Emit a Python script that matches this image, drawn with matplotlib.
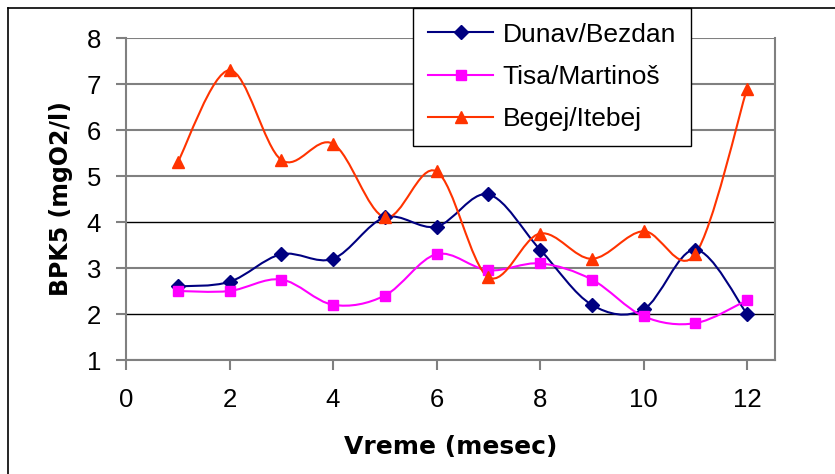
import numpy as np
import matplotlib
matplotlib.use('Agg')
import matplotlib.pyplot as plt
from matplotlib.path import Path
from matplotlib.patches import PathPatch
from matplotlib.lines import Line2D

plt.rcParams['font.family'] = ['Liberation Sans', 'DejaVu Sans']

months = [1, 2, 3, 4, 5, 6, 7, 8, 9, 10, 11, 12]
dunav = [2.6, 2.7, 3.3, 3.2, 4.1, 3.9, 4.6, 3.4, 2.2, 2.1, 3.4, 2.0]
tisa = [2.5, 2.5, 2.75, 2.2, 2.4, 3.3, 2.95, 3.1, 2.75, 1.95, 1.8, 2.3]
begej = [5.3, 7.3, 5.35, 5.7, 4.1, 5.1, 2.8, 3.75, 3.2, 3.8, 3.3, 6.9]


def smooth_path(x, y):
    # Excel-like smoothed line: cubic Bezier through the points
    p = np.column_stack([x, y]).astype(float)
    n = len(p)
    verts = [p[0]]
    codes = [Path.MOVETO]
    for i in range(n - 1):
        p0 = p[i - 1] if i > 0 else p[i]
        p3 = p[i + 2] if i + 2 < n else p[i + 1]
        c1 = p[i] + (p[i + 1] - p0) / 6
        c2 = p[i + 1] - (p3 - p[i]) / 6
        verts += [c1, c2, p[i + 1]]
        codes += [Path.CURVE4] * 3
    return Path(verts, codes)


fig = plt.figure(figsize=(8.35, 4.74), dpi=100)
ax = fig.add_axes([126 / 835, 1 - 360 / 474, 649 / 835, 322 / 474])

series = [
    ('Dunav/Bezdan', dunav, '#000080', 'D', 7),
    ('Tisa/Martinoš', tisa, '#FF00FF', 's', 7),
    ('Begej/Itebej', begej, '#FF3300', '^', 9),
]
handles = []
for name, vals, col, mk, ms in series:
    ax.add_patch(PathPatch(smooth_path(months, vals), facecolor='none',
                           edgecolor=col, lw=1.5, zorder=3))
    ax.plot(months, vals, ls='none', marker=mk, ms=ms, color=col, zorder=4)
    handles.append(Line2D([], [], color=col, lw=1.5, marker=mk, ms=ms))

ax.set_xlim(0, 12.54)
ax.set_ylim(1, 8)
ax.set_xticks([0, 2, 4, 6, 8, 10, 12])
ax.set_yticks([1, 2, 3, 4, 5, 6, 7, 8])
ax.tick_params(labelsize=18.5, color='#808080', length=7, width=1.5)
ax.tick_params(axis='x', pad=13)
ax.tick_params(axis='y', pad=11)
ax.yaxis.grid(True, color='#808080', lw=1.5)
for v, gl in zip(ax.get_yticks(), ax.get_ygridlines()):
    if v in (2, 4):
        gl.set_color('black')
        gl.set_linewidth(1)
for s in ax.spines.values():
    s.set_color('#808080')
    s.set_linewidth(1.5)
ax.spines['top'].set_visible(False)

ax.set_xlabel('Vreme (mesec)', fontsize=18, fontweight='bold', labelpad=17,
              family='DejaVu Sans')
ax.set_ylabel('BPK5 (mgO2/l)', fontsize=17, fontweight='bold', labelpad=10,
              family='DejaVu Sans')

leg = fig.legend(handles, [s[0] for s in series], loc='upper left',
                 bbox_to_anchor=(413 / 835, 1 - 8 / 474), borderaxespad=0,
                 fontsize=19, fancybox=False, edgecolor='black', framealpha=1,
                 handlelength=2.5, handletextpad=0.35, labelspacing=0.7,
                 borderpad=0.55)
leg.get_frame().set_linewidth(1)

# outer frame of the chart
fig.add_artist(Line2D([8 / 835, 1], [1 - 8 / 474, 1 - 8 / 474], color='black', lw=1.2))
fig.add_artist(Line2D([8 / 835, 8 / 835], [0, 1 - 8 / 474], color='black', lw=1.2))

fig.savefig('out.png', dpi=100)
